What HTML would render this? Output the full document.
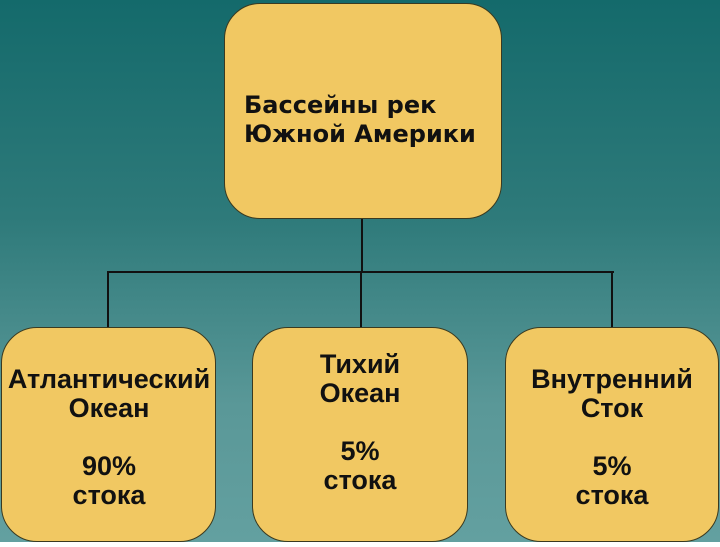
<!DOCTYPE html>
<html><head><meta charset="utf-8"><style>
html,body{margin:0;padding:0;background:#fff}
#c{position:relative;width:720px;height:542px;overflow:hidden;background:linear-gradient(180deg,#146a6b 0%,#2e7a7a 40%,#5a9898 75%,#63a0a0 100%)}
.b{position:absolute;background:#f1c862;border:1.5px solid #3a3a20;border-radius:36px;box-sizing:border-box}
.l{position:absolute;background:#111}
.t{position:absolute;font-family:"Liberation Sans",sans-serif;font-weight:bold;color:#111;text-align:center;font-size:27px;line-height:29px;width:240px}
</style></head><body><div id="c">
<div class="l" style="left:361px;top:215px;width:2px;height:58px"></div>
<div class="l" style="left:107px;top:271px;width:507px;height:2px"></div>
<div class="l" style="left:107px;top:271px;width:2px;height:58px"></div>
<div class="l" style="left:360px;top:271px;width:2px;height:58px"></div>
<div class="l" style="left:611px;top:271px;width:2px;height:58px"></div>
<div class="b" style="left:224px;top:3px;width:278px;height:216px"></div>
<div class="b" style="left:1px;top:327px;width:215px;height:215px"></div>
<div class="b" style="left:252px;top:327px;width:216px;height:215px"></div>
<div class="b" style="left:505px;top:327px;width:214px;height:215px"></div>
<div style="position:absolute;left:244px;top:91px;font-family:'DejaVu Sans',sans-serif;font-weight:bold;font-size:24px;line-height:29px;color:#111">Бассейны рек<br>Южной Америки</div>
<div class="t" style="left:-11px;top:365px">Атлантический<br>Океан<br><br>90%<br>стока</div>
<div class="t" style="left:240px;top:350px">Тихий<br>Океан<br><br>5%<br>стока</div>
<div class="t" style="left:492px;top:365px">Внутренний<br>Сток<br><br>5%<br>стока</div>
</div></body></html>
